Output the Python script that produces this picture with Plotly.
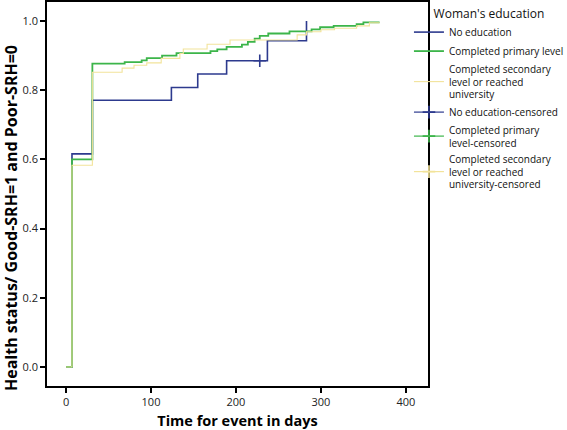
import plotly.graph_objects as go

# ---- data (Kaplan-Meier style step curves) ----
none_t = [0, 7, 31, 124, 155, 189, 237, 283]
none_v = [0, 0.616, 0.771, 0.808, 0.847, 0.885, 0.943, 1.0]
none_cens_t = [228]
none_cens_v = [0.885]

prim_t = [0, 7, 31, 69, 89, 95, 113, 130, 170, 178, 189, 207, 214, 222, 228,
          238, 263, 289, 299, 315, 342, 350, 369]
prim_v = [0, 0.600, 0.877, 0.881, 0.886, 0.893, 0.900, 0.907, 0.913, 0.918,
          0.925, 0.932, 0.940, 0.949, 0.957, 0.964, 0.970, 0.976, 0.982,
          0.986, 0.991, 0.996, 0.996]
# no censored marks are visible for these groups in the picture
prim_cens_t = [None]
prim_cens_v = [None]

sec_t = [0, 7, 31, 66, 80, 95, 112, 134, 138, 166, 193, 272, 283, 300, 316,
         342, 357, 369]
sec_v = [0, 0.583, 0.852, 0.864, 0.872, 0.879, 0.892, 0.906, 0.919, 0.933,
         0.945, 0.960, 0.969, 0.975, 0.979, 0.986, 0.995, 0.995]
sec_cens_t = [None]
sec_cens_v = [None]

names = ["No education",
         "Completed primary level",
         "Completed secondary<br>level or reached<br>university",
         "No education-censored",
         "Completed primary<br>level-censored",
         "Completed secondary<br>level or reached<br>university-censored"]

x_ticks = [0, 100, 200, 300, 400]
y_ticks = [0.0, 0.2, 0.4, 0.6, 0.8, 1.0]

NAVY = "#2d3a8e"
GREEN = "#3cb54a"
YELLOW = "#f2e39a"

fig = go.Figure()
fig.add_trace(go.Scatter(x=none_t, y=none_v, mode="lines", line_shape="hv",
                         line=dict(color=NAVY, width=1.6), name=names[0]))
fig.add_trace(go.Scatter(x=prim_t, y=prim_v, mode="lines", line_shape="hv",
                         line=dict(color=GREEN, width=1.8), name=names[1]))
fig.add_trace(go.Scatter(x=sec_t, y=sec_v, mode="lines", line_shape="hv",
                         line=dict(color=YELLOW, width=1.1), name=names[2]))
for t, v, col, nm in [(none_cens_t, none_cens_v, NAVY, names[3]),
                      (prim_cens_t, prim_cens_v, GREEN, names[4]),
                      (sec_cens_t, sec_cens_v, YELLOW, names[5])]:
    fig.add_trace(go.Scatter(x=t, y=v, mode="lines+markers",
                             line=dict(color=col, width=1.2),
                             marker=dict(symbol="cross-thin", size=9,
                                         line=dict(color=col, width=1.6)),
                             name=nm))

FONT = "Open Sans"
fig.update_layout(
    width=567, height=430,
    margin=dict(l=47, r=139, t=2, b=44, autoexpand=False),
    paper_bgcolor="white", plot_bgcolor="white",
    font=dict(family=FONT, size=11, color="#222222"),
    showlegend=True,
    legend=dict(
        x=0.950, xanchor="left", y=1.0, yanchor="top",
        bgcolor="rgba(0,0,0,0)", borderwidth=0,
        font=dict(family=FONT, size=10, color="#111111"),
        title=dict(text="Woman's education", side="top center",
                   font=dict(family=FONT, size=12, color="#111111")),
        traceorder="normal", itemwidth=30,
    ),
    xaxis=dict(
        range=[-22.4, 426], tickvals=x_ticks, ticktext=[str(v) for v in x_ticks],
        showgrid=False, zeroline=False,
        showline=True, linecolor="black", linewidth=1.5, mirror=True,
        ticks="outside", ticklen=5, tickwidth=1.5, tickcolor="black",
        tickfont=dict(family=FONT, size=11, color="#222222"),
        title=dict(text="Time for event in days", standoff=8,
                   font=dict(family=FONT, size=14.5, color="black", weight="bold")),
        automargin=False,
    ),
    yaxis=dict(
        range=[-0.055, 1.055], tickvals=y_ticks, tickformat=".1f",
        showgrid=False, zeroline=False,
        showline=True, linecolor="black", linewidth=1.5, mirror=True,
        ticks="outside", ticklen=5, tickwidth=1.5, tickcolor="black",
        tickfont=dict(family=FONT, size=11, color="#222222"),
        automargin=False,
    ),
    annotations=[dict(
        text="Health status/ Good-SRH=1 and Poor-SRH=0",
        xref="paper", yref="paper", x=-0.095, y=0.437,
        xanchor="center", yanchor="middle", textangle=-90, showarrow=False,
        font=dict(family=FONT, size=16, color="black", weight="bold"),
    )],
)

fig.write_html("out.html", config={"displayModeBar": False},
               post_script="document.body.style.margin='0';")
